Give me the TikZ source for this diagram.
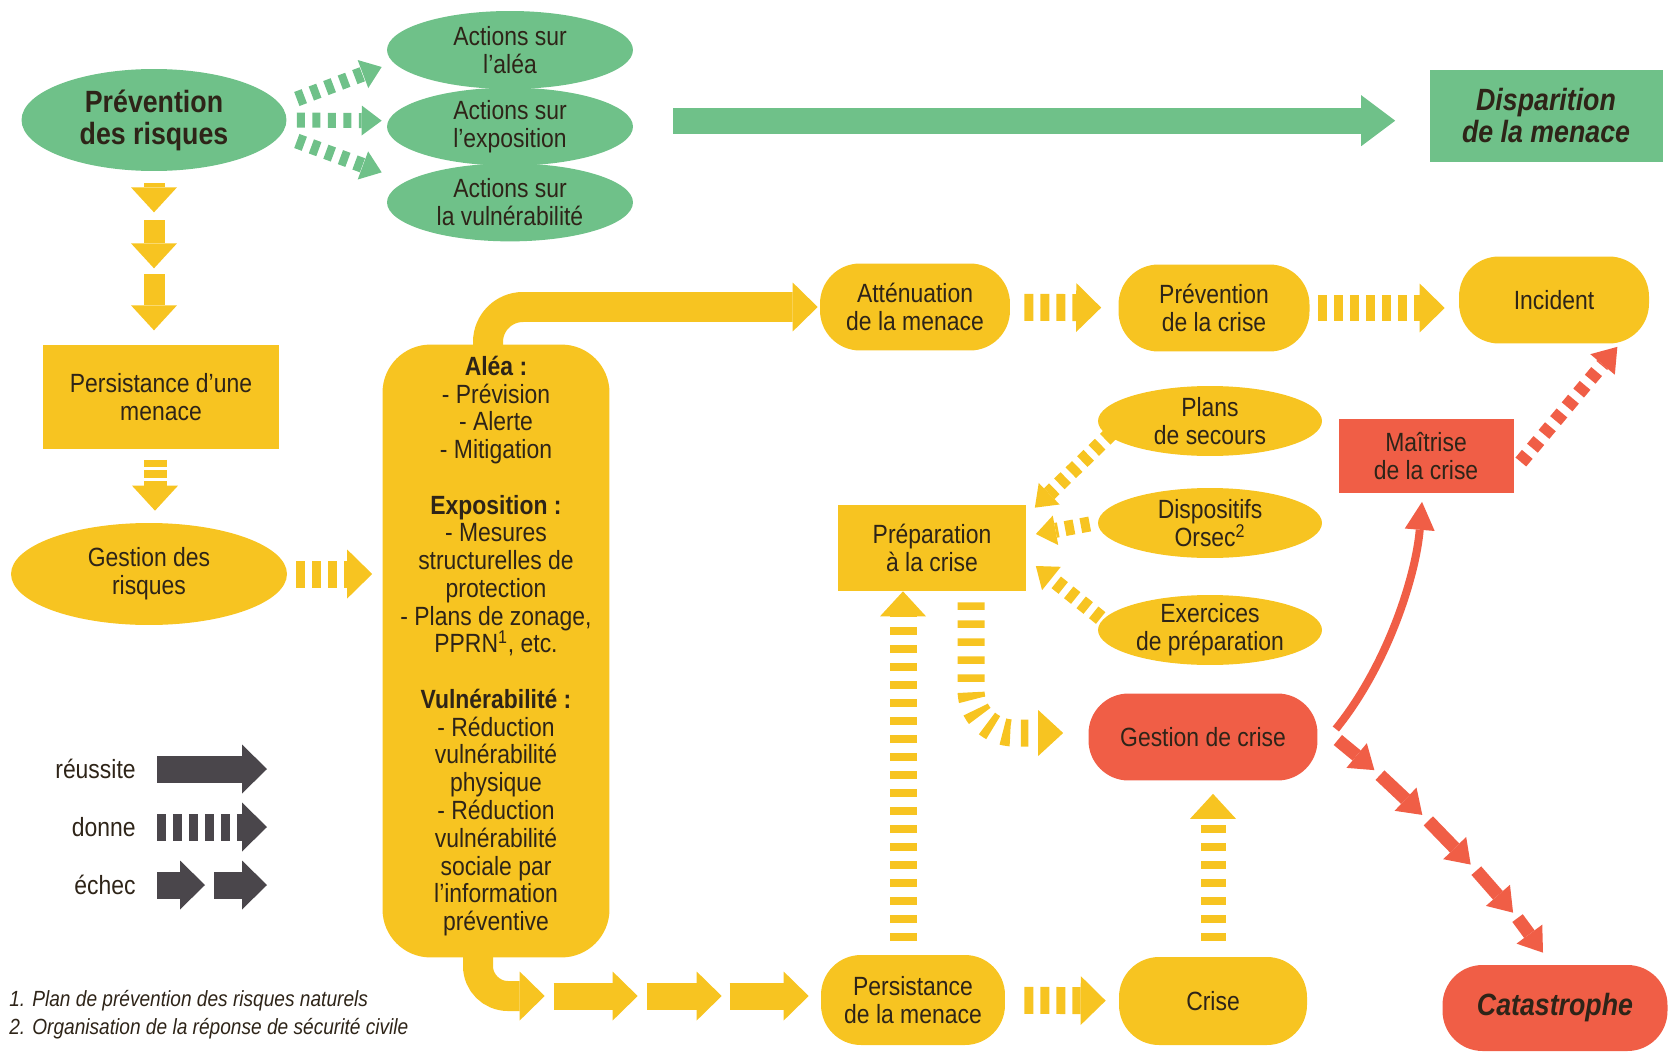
\documentclass[tikz,border=0pt]{standalone}
\usepackage{fontspec}
\setmainfont{Liberation Sans}[FakeStretch=0.87]
\usetikzlibrary{shapes.geometric,arrows.meta,calc,positioning}

\definecolor{vert}{HTML}{6FC189}
\definecolor{jaune}{HTML}{F7C421}
\definecolor{rouge}{HTML}{F05E46}
\definecolor{gris}{HTML}{4A464B}
\definecolor{encre}{HTML}{2E2418}

\tikzset{
  txt/.style={text=encre, align=center, inner sep=0pt, font=\fontsize{15}{15.8}\selectfont},
  gras/.style={font=\fontsize{17.5}{18.2}\selectfont\bfseries},
  grasit/.style={font=\fontsize{17.5}{18.2}\selectfont\bfseries\itshape},
  ovale/.style={txt, ellipse, inner ysep=-3pt, fill=#1, minimum width=4.48cm, minimum height=1.4cm},
  boite/.style={txt, rectangle, fill=#1, minimum width=3.78cm, minimum height=1.72cm},
  pilule/.style={txt, rectangle, rounded corners=0.8cm, fill=#1, minimum width=3.8cm, minimum height=1.74cm},
  gros/.style={line width=0.54cm, -{Triangle[length=0.5cm, width=0.98cm, line width=0pt]}},
  moyen/.style={line width=0.46cm, -{Triangle[length=0.5cm, width=0.92cm, line width=0pt]}},
  mince/.style={line width=0.3cm, -{Triangle[length=0.4cm, width=0.6cm, line width=0pt]}},
  fil/.style={line width=0.26cm, -{Triangle[length=0.46cm, width=0.64cm, line width=0pt]}},
  donne/.style={dash pattern=on 0.18cm off 0.14cm},
  donnev/.style={dash pattern=on 0.15cm off 0.21cm},
}

\begin{document}
\begin{tikzpicture}[x=0.02cm, y=-0.02cm]
\useasboundingbox (0,0) rectangle (1676,1054);

% prevention
\node[ovale=vert, gras, minimum width=5.3cm, minimum height=2.04cm] (prev) at (154,120) {Prévention\\des risques};
\node[ovale=vert, minimum width=4.92cm, minimum height=1.56cm] (alea) at (510,50) {Actions sur\\l’aléa};
\node[ovale=vert, minimum width=4.92cm, minimum height=1.56cm, below=-0.04cm of alea] (expo) {Actions sur\\l’exposition};
\node[ovale=vert, minimum width=4.92cm, minimum height=1.56cm, below=-0.06cm of expo] (vuln) {Actions sur\\la vulnérabilité};
\node[boite=vert, grasit, minimum width=4.66cm, minimum height=1.86cm] (disp) at (1546,116) {Disparition\\de la menace};

% gestion des risques
\node[boite=jaune, minimum width=4.74cm, minimum height=2.1cm] (pers) at (161,397) {Persistance d’une\\menace};
\node[ovale=jaune, minimum width=5.52cm, minimum height=2.04cm] (gestr) at (149,574) {Gestion des\\risques};
\node[txt, fill=jaune, rounded corners=0.96cm, minimum width=4.54cm, minimum height=12.26cm] (mesures) at (496,651)
  {{\bfseries Aléa :}\\- Prévision\\- Alerte\\- Mitigation\\[15.8pt]
   {\bfseries Exposition :}\\- Mesures\\structurelles de\\protection\\- Plans de zonage,\\PPRN\textsuperscript{1}, etc.\\[15.8pt]
   {\bfseries Vulnérabilité :}\\- Réduction\\vulnérabilité\\physique\\- Réduction\\vulnérabilité\\sociale par\\l’information\\préventive\\[-7pt]\mbox{}};

% crise
\node[pilule=jaune] (att) at (915,307) {Atténuation\\de la menace};
\node[pilule=jaune, minimum width=3.82cm] (prevc) at (1214,308) {Prévention\\de la crise};
\node[pilule=jaune] (inc) at (1554,300) {Incident};
\node[ovale=jaune] (plans) at (1210,421) {Plans\\de secours};
\node[ovale=jaune] (orsec) at (1210,523) {Dispositifs\\Orsec\textsuperscript{2}};
\node[ovale=jaune] (exer) at (1210,630) {Exercices\\de préparation};
\node[boite=jaune] (prep) at (932,548) {Préparation\\à la crise};
\node[boite=rouge, minimum width=3.5cm, minimum height=1.5cm] (mait) at (1426,456) {Maîtrise\\de la crise};
\node[pilule=rouge, minimum width=4.58cm] (gestc) at (1203,737) {Gestion de crise};
\node[pilule=jaune, minimum width=3.76cm, minimum height=1.76cm] (crise) at (1213,1001) {Crise};
\node[pilule=jaune, minimum width=3.68cm, minimum height=1.8cm] (persm) at (913,1000) {Persistance\\de la menace};
\node[pilule=rouge, grasit, minimum width=4.5cm, minimum height=1.72cm] (cata) at (1555,1008) {Catastrophe};

% legende
\node[txt, anchor=east] (lreu) at (136,769) {réussite};
\node[txt, anchor=east] (ldon) at (136,827) {donne};
\node[txt, anchor=east] (lech) at (136,885) {échec};
\node[txt, anchor=west, align=left, font=\fontsize{12.5}{15.8}\selectfont\itshape] (notes) at (9,1015)
  {1. Plan de prévention des risques naturels\\2. Organisation de la réponse de sécurité civile};

% fleches vertes
\draw[vert, mince, dash pattern=on 0.16cm off 0.15cm] ($(prev.east)+(10,-21)$) -- ($(alea.west)+(-5,17)$);
\draw[vert, mince, dash pattern=on 0.16cm off 0.15cm] ($(prev.east)+(10,0)$) -- ($(expo.west)+(-5,-6)$);
\draw[vert, mince, dash pattern=on 0.16cm off 0.15cm] ($(prev.east)+(10,21)$) -- ($(vuln.west)+(-5,-30)$);
\draw[vert, line width=0.52cm, -{Triangle[length=0.68cm, width=1.02cm, line width=0pt]}] ($(expo.east)+(40,-6)$) -- ($(expo.east -| disp.west)+(-34,-6)$);

% fleches jaunes
\draw[jaune, moyen, line width=0.42cm] ($(prev.south)+(0,12)$) -- ($(prev.south)+(0,41)$);
\draw[jaune, moyen, line width=0.42cm] ($(prev.south)+(0,49)$) -- ($(prev.south)+(0,97)$);
\draw[jaune, moyen, line width=0.42cm] ($(prev.south)+(0,103)$) -- ($(prev.south)+(0,159)$);
\draw[jaune, moyen, dash pattern=on 0.15cm off 0.06cm, shorten <=0.2cm, shorten >=0.24cm] ($(pers.south)+(-6,0)$) -- ($(pers.south |- gestr.north)+(-6,0)$);
\draw[jaune, gros, donne, shorten <=0.18cm, shorten >=0.2cm] (gestr) -- (gestr -| mesures.west);
\draw[jaune, gros, line width=0.6cm, rounded corners=0.7cm, shorten >=0.04cm] ($(mesures.north)+(-8,3)$) |- (att.west);
\draw[jaune, gros, line width=0.6cm, rounded corners=0.6cm] ($(mesures.south)+(-18,-6)$) |- ($(persm.west)+(-276,-4)$);
\draw[jaune, gros] ($(persm.west)+(-267,-4)$) -- ($(persm.west)+(-183,-4)$);
\draw[jaune, gros] ($(persm.west)+(-174,-4)$) -- ($(persm.west)+(-99,-4)$);
\draw[jaune, gros] ($(persm.west)+(-91,-4)$) -- ($(persm.west)+(-12,-4)$);
\draw[jaune, gros, donne, shorten <=0.28cm, shorten >=0.34cm] (att) -- (prevc);
\draw[jaune, gros, donne, shorten <=0.16cm, shorten >=0.28cm] (prevc.east) -- (prevc.east -| inc.west);
\draw[jaune, mince, donne] ($(plans.west)+(14,12)$) -- ($(prep.north east)+(8,3)$);
\draw[jaune, mince, donne] ($(orsec.west)+(-8,1)$) -- ($(prep.east)+(9,-14)$);
\draw[jaune, mince, donne] ($(exer.west)+(3,-12)$) -- ($(prep.east)+(9,18)$);
\draw[jaune, moyen, line width=0.54cm, donnev, shorten <=0.28cm] ($(persm.north)+(-10,0)$) -- ($(prep.south)+(-29,0)$);
\draw[jaune, moyen, line width=0.54cm, donnev, rounded corners=0.86cm] ($(prep.south)+(39,11)$) |- ($(gestc.west)+(-25,-4)$);
\draw[jaune, gros, donne, shorten <=0.38cm, shorten >=0.26cm] (persm) -- (crise);
\draw[jaune, moyen, line width=0.5cm, donnev, shorten <=0.32cm, shorten >=0.26cm] (crise.north) -- (crise.north |- gestc.south);

% fleches rouges
\draw[rouge, fil, line width=0.16cm, -{Triangle[length=0.56cm, width=0.6cm, line width=0pt]}] ($(gestc.east)+(18,-8)$) .. controls +(52,-64) and +(-6,73) .. ($(mait.south)+(-4,8)$);
\draw[rouge, fil, line width=0.28cm, dash pattern=on 0.2cm off 0.16cm] ($(mait.east)+(7,6)$) -- ($(inc.south east)+(-32,3)$);
\coordinate (c0) at ($(gestc.east)+(20,3)$);
\coordinate (c1) at ($(cata.north)+(-12,-12)$);
\path (c0) .. controls +(60,45) and +(-35,-55) .. (c1)
  coordinate[pos=0.18] (k1) coordinate[pos=0.205] (k2)
  coordinate[pos=0.385] (k3) coordinate[pos=0.41] (k4)
  coordinate[pos=0.59] (k5) coordinate[pos=0.615] (k6)
  coordinate[pos=0.795] (k7) coordinate[pos=0.82] (k8);
\draw[rouge, fil] (c0) -- (k1);
\draw[rouge, fil] (k2) -- (k3);
\draw[rouge, fil] (k4) -- (k5);
\draw[rouge, fil] (k6) -- (k7);
\draw[rouge, fil] (k8) -- (c1);

% fleches de la legende
\draw[gris, gros] ($(lreu.east)+(21,0)$) -- ($(lreu.east)+(131,0)$);
\draw[gris, gros, donne] ($(ldon.east)+(21,0)$) -- ($(ldon.east)+(131,0)$);
\draw[gris, gros] ($(lech.east)+(21,0)$) -- ($(lech.east)+(69,0)$);
\draw[gris, gros] ($(lech.east)+(78,0)$) -- ($(lech.east)+(131,0)$);
\end{tikzpicture}
\end{document}
